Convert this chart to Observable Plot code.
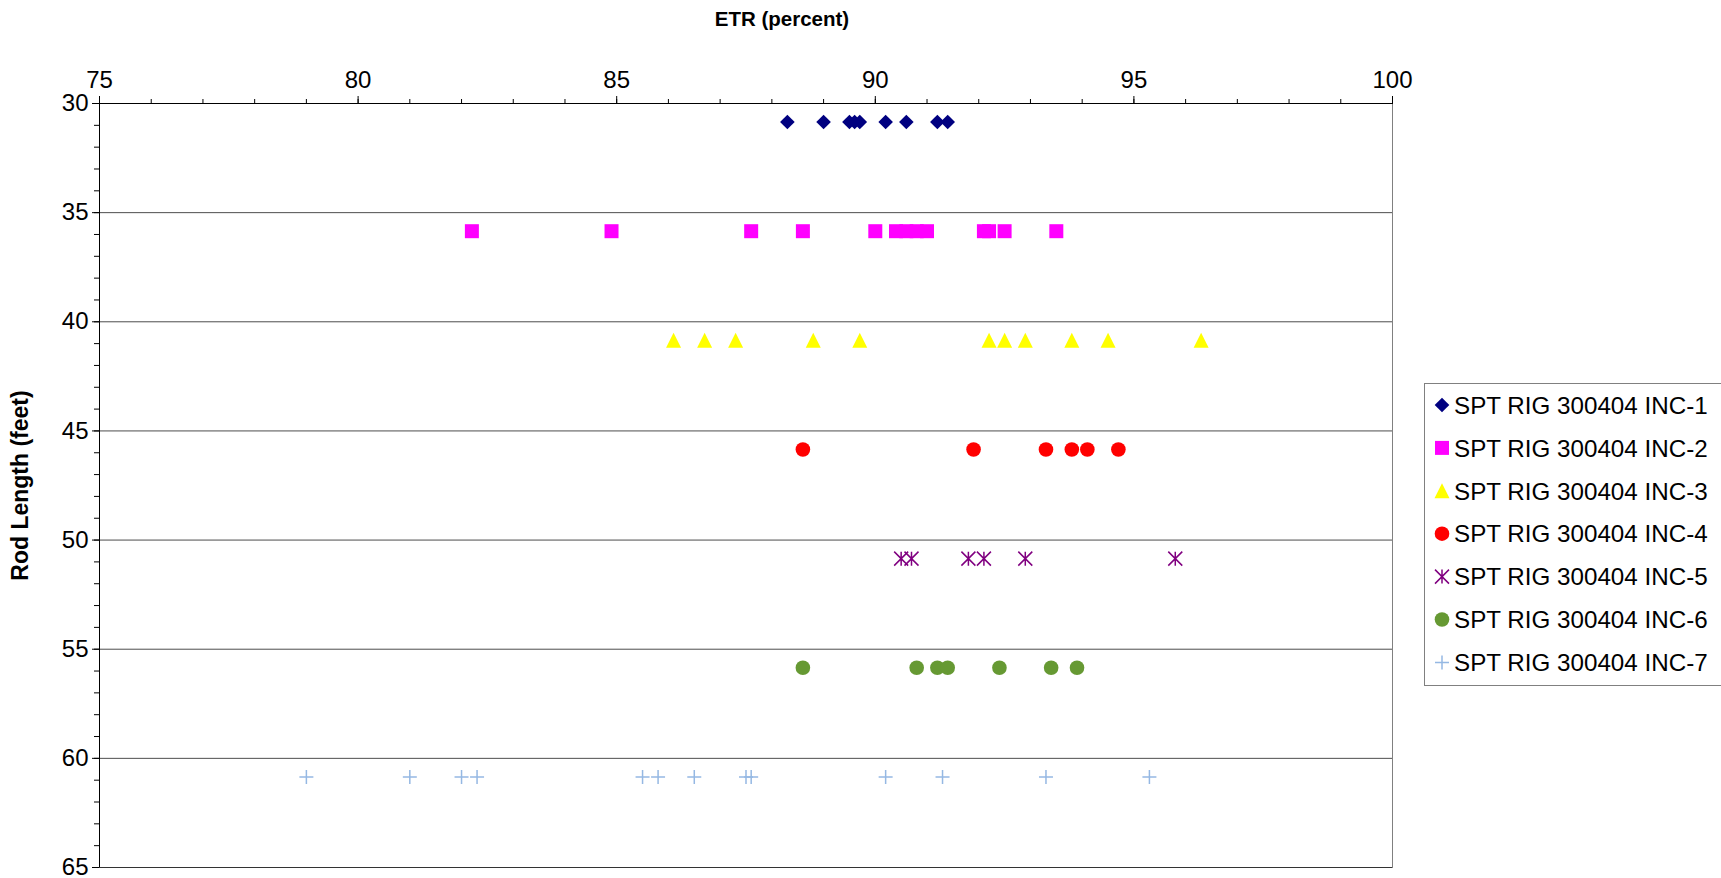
<!DOCTYPE html>
<html>
<head>
<meta charset="utf-8">
<script src="https://cdn.jsdelivr.net/npm/d3@7"></script>
<script src="https://cdn.jsdelivr.net/npm/@observablehq/plot@0.6"></script>
<style>
  html, body { margin: 0; padding: 0; background: #fff; }
  #wrap { position: relative; width: 1721px; height: 878px; overflow: hidden; font-family: 'Liberation Sans', Arial, sans-serif; }
  #legend { position: absolute; left: 1424px; top: 383px; }
</style>
</head>
<body>
<div id="wrap"></div>
<script>
// ---- data ----
const seriesNames = ["SPT RIG 300404 INC-1", "SPT RIG 300404 INC-2", "SPT RIG 300404 INC-3",
  "SPT RIG 300404 INC-4", "SPT RIG 300404 INC-5", "SPT RIG 300404 INC-6", "SPT RIG 300404 INC-7"];
const rodLength = [30.85, 35.85, 40.85, 45.85, 50.85, 55.85, 60.85];
const etr1 = [88.3, 89.0, 89.5, 89.6, 89.7, 90.2, 90.6, 91.2, 91.4];
const etr2 = [82.2, 84.9, 87.6, 88.6, 90.0, 90.4, 90.6, 90.8, 91.0, 92.1, 92.2, 92.5, 93.5];
const etr3 = [86.1, 86.7, 87.3, 88.8, 89.7, 92.2, 92.5, 92.9, 93.8, 94.5, 96.3];
const etr4 = [88.6, 91.9, 93.3, 93.8, 94.1, 94.7];
const etr5 = [90.5, 90.7, 91.8, 92.1, 92.9, 95.8];
const etr6 = [88.6, 90.8, 91.2, 91.4, 92.4, 93.4, 93.9];
const etr7 = [79.0, 81.0, 82.0, 82.3, 85.5, 85.8, 86.5, 87.5, 87.6, 90.2, 91.3, 93.3, 95.3];
const xTicks = [75, 80, 85, 90, 95, 100];
const yTicks = [30, 35, 40, 45, 50, 55, 60, 65];
const gridValues = [35, 40, 45, 50, 55, 60];

// ---- styles ----
const colors = ["#000080", "#FF00FF", "#FFFF00", "#FF0000", "#800080", "#669933", "#95B8E3"];
const H = size => Math.sqrt(size / Math.PI);
const symDiamond = { draw(c, s) { const h = H(s); c.moveTo(0, -h); c.lineTo(h, 0); c.lineTo(0, h); c.lineTo(-h, 0); c.closePath(); } };
const symSquare = { draw(c, s) { const h = H(s); c.rect(-h, -h, 2 * h, 2 * h); } };
const symTriangle = { draw(c, s) { const h = H(s); c.moveTo(0, -h); c.lineTo(h, h); c.lineTo(-h, h); c.closePath(); } };
const symCircle = { draw(c, s) { const h = H(s); c.moveTo(h, 0); c.arc(0, 0, h, 0, 2 * Math.PI); } };
const symStar = { draw(c, s) { const h = H(s); c.moveTo(0, -h); c.lineTo(0, h); c.moveTo(-h, -h); c.lineTo(h, h); c.moveTo(-h, h); c.lineTo(h, -h); } };
const symPlus = { draw(c, s) { const h = H(s); c.moveTo(-h, 0); c.lineTo(h, 0); c.moveTo(0, -h); c.lineTo(0, h); } };
const symbols = [symDiamond, symSquare, symTriangle, symCircle, symStar, symCircle, symPlus];
const radii = [7.3, 7, 7.5, 7.3, 7, 7.3, 7];
const filled = [true, true, true, true, false, true, false];

const allSeries = [etr1, etr2, etr3, etr4, etr5, etr6, etr7];
const tables = allSeries.map((vals, i) => vals.map(v => ({ etr: v, rod: rodLength[i], series: seriesNames[i] })));

const dotMarks = tables.map((t, i) => Plot.dot(t, {
  x: "etr", y: "rod", symbol: symbols[i], r: radii[i],
  fill: filled[i] ? colors[i] : "none",
  stroke: filled[i] ? "none" : colors[i],
  strokeWidth: filled[i] ? 0 : 1.5
}));

const chart = Plot.plot({
  width: 1721,
  height: 878,
  marginLeft: 99,
  marginRight: 329,
  marginTop: 103,
  marginBottom: 11,
  style: { fontFamily: "'Liberation Sans', Arial, sans-serif", fontSize: "24px", color: "#000", background: "#fff", overflow: "visible" },
  x: { domain: [75, 100] },
  y: { domain: [30, 65], reverse: true },
  marks: [
    Plot.ruleY(gridValues, { stroke: "#4d4d4d", strokeWidth: 1 }),
    Plot.frame({ stroke: "#808080" }),
    Plot.ruleY([65], { stroke: "#333" }),
    Plot.axisX(d3.range(75, 101), { anchor: "top", tickSize: 5, tickFormat: () => "", label: null, stroke: "#000" }),
    Plot.axisX(xTicks, { anchor: "top", tickSize: 8, tickPadding: 8, fontSize: 24, label: null, stroke: "#000" }),
    Plot.axisY(d3.range(30, 66), { anchor: "left", tickSize: 5, tickFormat: () => "", label: null, stroke: "#000" }),
    Plot.axisY(yTicks, { anchor: "left", tickSize: 7, tickPadding: 4, fontSize: 24, label: null, stroke: "#000" }),
    Plot.ruleY([30], { stroke: "#000" }),
    Plot.ruleX([75], { stroke: "#000" }),
    ...dotMarks,
    Plot.text(["ETR (percent)"], { text: d => d, frameAnchor: "top", dx: 36, dy: -84, fontWeight: "bold", fontSize: 20.5, textAnchor: "middle", lineAnchor: "middle" }),
    Plot.text(["Rod Length (feet)"], { text: d => d, frameAnchor: "left", dx: -79, rotate: -90, fontWeight: "bold", fontSize: 23, textAnchor: "middle", lineAnchor: "middle" })
  ]
});
document.getElementById("wrap").appendChild(chart);

// ---- legend ----
const lg = d3.select("#wrap").append("svg").attr("id", "legend")
  .attr("width", 300).attr("height", 303)
  .style("font-family", "'Liberation Sans', Arial, sans-serif");
lg.append("rect").attr("x", 0.5).attr("y", 0.5).attr("width", 310).attr("height", 302)
  .attr("fill", "#fff").attr("stroke", "#808080");
seriesNames.forEach((name, i) => {
  const cy = 22 + i * 42.9;
  const p = d3.path();
  symbols[i].draw(p, Math.PI * radii[i] * radii[i]);
  lg.append("path").attr("d", p.toString())
    .attr("transform", `translate(18,${cy})`)
    .attr("fill", filled[i] ? colors[i] : "none")
    .attr("stroke", filled[i] ? "none" : colors[i])
    .attr("stroke-width", filled[i] ? 0 : 1.5);
  lg.append("text").attr("x", 30).attr("y", cy).attr("dy", "0.36em")
    .attr("font-size", 24.2).attr("fill", "#000").text(name);
});
</script>
</body>
</html>
